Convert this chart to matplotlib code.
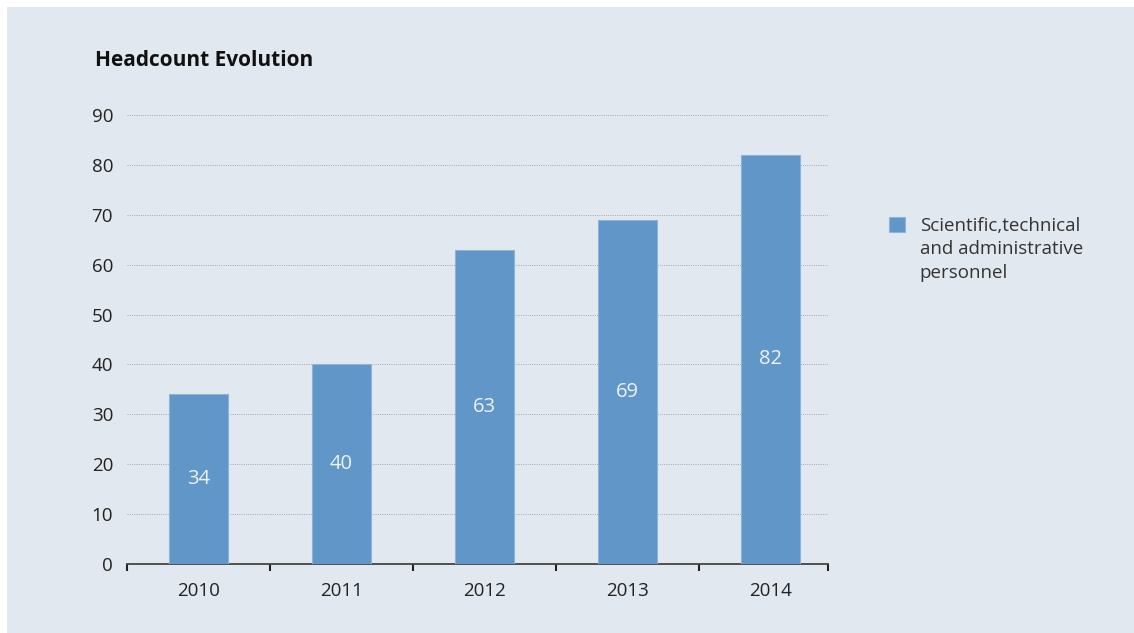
import matplotlib.pyplot as plt
from matplotlib.patches import Rectangle
from matplotlib.offsetbox import HPacker

years = ['2010', '2011', '2012', '2013', '2014']
headcount = [34, 40, 63, 69, 82]
series_name = 'Scientific,technical\nand administrative\npersonnel'

bg = '#e2e8f0'
bar_color = '#6096c8'

plt.rcParams['font.family'] = ['Open Sans', 'DejaVu Sans']

fig = plt.figure(figsize=(11.34, 6.33), dpi=100)
fig.patches.append(Rectangle((7 / 1134, 0), 1, 1 - 7 / 633, transform=fig.transFigure,
                             facecolor=bg, edgecolor='none', zorder=-5))

ax = fig.add_axes([127 / 1134, 1 - 564 / 633, 701 / 1134, (564 - 115) / 633])
ax.set_facecolor('none')

x = range(len(years))
bars = ax.bar(x, headcount, width=0.41, color=bar_color, edgecolor='#8db3d9',
              linewidth=0.8, zorder=3, label=series_name)
for i, v in enumerate(headcount):
    ax.text(i, v / 2, str(v), ha='center', va='center', color='#eef3f8',
            fontsize=14.5, zorder=4)

ax.set_ylim(0, 90)
ax.set_xlim(-0.5, 4.4)
ax.set_yticks(range(0, 91, 10))
for y in range(10, 91, 10):
    ax.axhline(y, color='#a3a8ae', linestyle=(0, (1, 1.3)), linewidth=0.7, zorder=1)

ax.set_xticks([-0.5, 0.5, 1.5, 2.5, 3.5, 4.4])
ax.set_xticklabels([])
ax.set_xticks(list(x), minor=True)
ax.set_xticklabels(years, minor=True)
ax.tick_params(axis='x', which='major', length=5, width=1.5, color='#222222', direction='out')
ax.tick_params(axis='x', which='minor', length=0, pad=13, labelsize=13.5, labelcolor='#222222')
ax.tick_params(axis='y', length=0, pad=10, labelsize=13.5, labelcolor='#222222')

for s in ['top', 'right', 'left']:
    ax.spines[s].set_visible(False)
ax.spines['bottom'].set_color('#444444')
ax.spines['bottom'].set_linewidth(1.3)

fig.text(95 / 1134, 1 - 61 / 633, 'Headcount Evolution', fontsize=15, fontweight='bold',
         color='#111111', ha='left', va='center')

leg = ax.legend(loc='upper left', bbox_to_anchor=(872 / 1134, 1 - 200 / 633),
                bbox_transform=fig.transFigure, frameon=False, fontsize=13.5,
                handlelength=0.85, handleheight=0.85, handletextpad=0.8, labelspacing=0.3,
                borderpad=0.4)
for hp in leg.findobj(HPacker):
    hp.align = 'top'
for t in leg.get_texts():
    t.set_color('#333333')
    t.set_linespacing(1.4)

fig.savefig('out.png', dpi=100)
